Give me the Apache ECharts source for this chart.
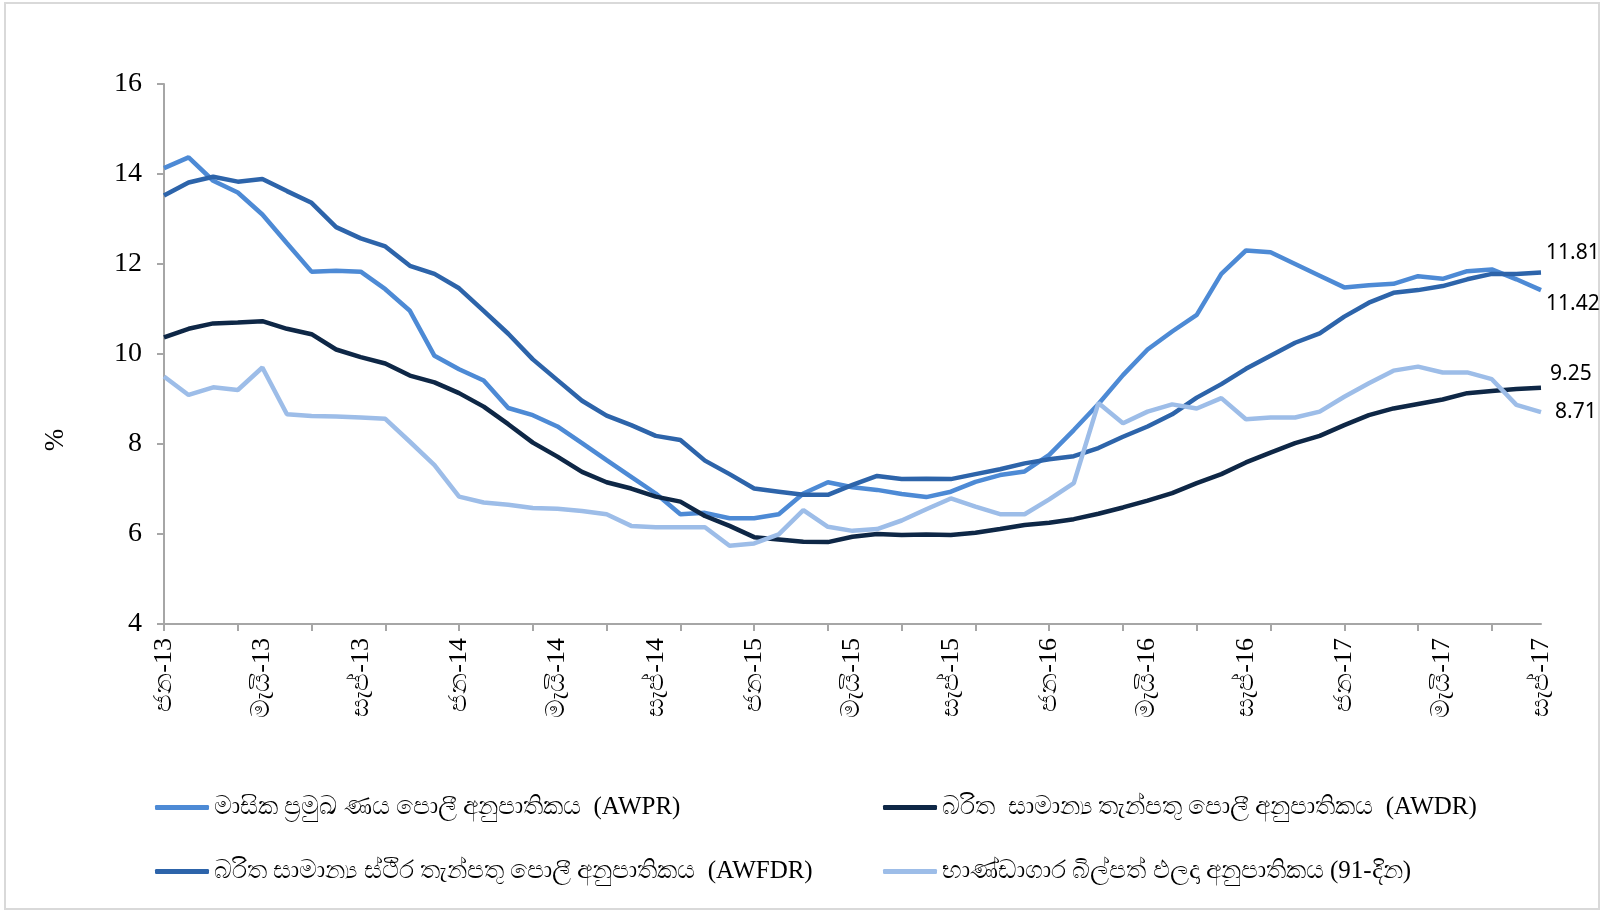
<!DOCTYPE html>
<html>
<head>
<meta charset="utf-8">
<script src="https://cdn.jsdelivr.net/npm/echarts@6/dist/echarts.min.js"></script>
<style>
html,body{margin:0;padding:0;background:#fff;}
#frame{position:absolute;left:4px;top:2px;width:1596px;height:908px;border:2px solid #d9d9d9;box-sizing:border-box;}
#chart{position:absolute;left:0;top:0;width:1605px;height:914px;}
</style>
</head>
<body>
<div id="frame"></div>
<div id="chart"></div>
<script>
const categories = [
 'ජන-13','පෙබ-13','මාර්-13','අප්‍රේ-13','මැයි-13','ජූනි-13','ජූලි-13','අගෝ-13','සැප්-13','ඔක්-13','නොවැ-13','දෙසැ-13',
 'ජන-14','පෙබ-14','මාර්-14','අප්‍රේ-14','මැයි-14','ජූනි-14','ජූලි-14','අගෝ-14','සැප්-14','ඔක්-14','නොවැ-14','දෙසැ-14',
 'ජන-15','පෙබ-15','මාර්-15','අප්‍රේ-15','මැයි-15','ජූනි-15','ජූලි-15','අගෝ-15','සැප්-15','ඔක්-15','නොවැ-15','දෙසැ-15',
 'ජන-16','පෙබ-16','මාර්-16','අප්‍රේ-16','මැයි-16','ජූනි-16','ජූලි-16','අගෝ-16','සැප්-16','ඔක්-16','නොවැ-16','දෙසැ-16',
 'ජන-17','පෙබ-17','මාර්-17','අප්‍රේ-17','මැයි-17','ජූනි-17','ජූලි-17','අගෝ-17','සැප්-17'
];
const awpr = [14.13,14.37,13.85,13.59,13.10,12.46,11.83,11.85,11.83,11.44,10.96,9.96,9.66,9.41,8.80,
 8.64,8.39,8.02,7.64,7.27,6.90,6.44,6.47,6.35,6.35,6.44,6.90,7.15,
 7.04,6.98,6.89,6.82,6.94,7.16,7.31,7.39,7.76,8.31,8.89,9.53,10.10,10.50,
 10.87,11.78,12.30,12.26,12.00,11.74,11.48,11.53,11.56,11.73,11.67,11.84,11.88,11.66,11.42];
const awdr = [10.37,10.56,10.68,10.70,10.73,10.56,10.44,10.10,9.93,9.79,9.52,9.37,9.13,8.83,8.44,
 8.03,7.72,7.38,7.15,7.01,6.83,6.72,6.40,6.18,5.93,5.88,5.83,5.82,
 5.94,6.00,5.98,5.99,5.98,6.03,6.11,6.20,6.25,6.33,6.45,6.59,6.74,6.91,
 7.13,7.33,7.59,7.81,8.02,8.18,8.42,8.64,8.79,8.89,8.99,9.13,9.18,9.22,9.25];
const awfdr = [13.52,13.81,13.94,13.83,13.89,13.62,13.36,12.82,12.57,12.39,11.96,11.78,11.46,10.96,10.45,
 9.88,9.42,8.96,8.63,8.42,8.18,8.09,7.63,7.33,7.01,6.94,6.87,6.87,
 7.09,7.29,7.22,7.23,7.22,7.33,7.44,7.57,7.66,7.73,7.91,8.16,8.39,8.66,
 9.03,9.33,9.67,9.96,10.25,10.46,10.83,11.14,11.36,11.42,11.51,11.66,11.78,11.78,11.81];
const tbill = [9.50,9.09,9.26,9.20,9.70,8.66,8.62,8.61,8.59,8.56,8.05,7.53,6.83,6.70,6.65,
 6.58,6.56,6.51,6.44,6.18,6.15,6.15,6.15,5.74,5.79,5.99,6.53,6.16,
 6.07,6.11,6.30,6.55,6.79,6.61,6.44,6.44,6.77,7.13,8.91,8.46,8.72,8.88,
 8.79,9.02,8.55,8.59,8.59,8.72,9.05,9.35,9.63,9.72,9.59,9.59,9.44,8.87,8.71];
const yTicks = [4,6,8,10,12,14,16];

const names = [
 'මාසික ප්‍රමුඛ ණය පොලී අනුපාතිකය  (AWPR)',
 'බරිත  සාමාන්‍ය තැන්පතු පොලී අනුපාතිකය  (AWDR)',
 'බරිත සාමාන්‍ය ස්ථිර තැන්පතු පොලී අනුපාතිකය  (AWFDR)',
 'භාණ්ඩාගාර බිල්පත් ඵලදා අනුපාතිකය (91-දින)'
];
const colors = ['#4d8ad5','#0e2746','#2d64aa','#9dbde8'];
const serif = '"Liberation Serif","DejaVu Serif",serif';

function mkLegend(name, left, top){
  return {show:true, data:[name], left:left, top:top, orient:'horizontal',
    icon:'roundRect', itemWidth:54, itemHeight:5,
    textStyle:{fontFamily:serif, fontSize:25, color:'#000'}};
}
function mkSeries(i, data, lw, dx, dy){
  return {name:names[i], type:'line', data:data, symbol:'none', smooth:false,
    lineStyle:{color:colors[i], width:lw}, itemStyle:{color:colors[i]},
    endLabel:{show:true, formatter:(p)=>p.value.toFixed(2), distance:5, offset:[dx,dy],
      fontFamily:'"Noto Sans",sans-serif', fontSize:21, color:'#000'}};
}

const chart = echarts.init(document.getElementById('chart'), null, {renderer:'canvas'});
chart.setOption({
  animation:false,
  backgroundColor:'transparent',
  grid:{left:164, right:64, top:84, bottom:290, containLabel:false},
  legend:[
    mkLegend(names[0],150,790),
    mkLegend(names[1],878,790),
    mkLegend(names[2],150,854),
    mkLegend(names[3],878,854)
  ],
  xAxis:{type:'category', data:categories, boundaryGap:false,
    axisLine:{lineStyle:{color:'#a6a6a6', width:2}},
    axisTick:{show:true, interval:2, length:7, lineStyle:{color:'#a6a6a6', width:2}},
    axisLabel:{interval:3, rotate:90, margin:14, fontFamily:serif, fontSize:26, color:'#000'},
    splitLine:{show:false}},
  yAxis:{type:'value', min:4, max:16, interval:2,
    name:'%', nameLocation:'middle', nameRotate:90, nameGap:95,
    nameTextStyle:{fontFamily:serif, fontSize:27, color:'#000', padding:[0,172,0,0]},
    axisLine:{show:true, lineStyle:{color:'#a6a6a6', width:2}},
    axisTick:{show:true, length:7, lineStyle:{color:'#a6a6a6', width:2}},
    axisLabel:{margin:22, fontFamily:serif, fontSize:28, color:'#000',
      formatter:(v)=> yTicks.includes(v) ? String(v) : ''},
    splitLine:{show:false}},
  series:[
    mkSeries(0, awpr, 4.5, 0, 14),
    mkSeries(1, awdr, 4.5, 4, -14),
    mkSeries(2, awfdr, 4.5, 0, -20),
    mkSeries(3, tbill, 4.5, 9, 0)
  ]
});
</script>
</body>
</html>
